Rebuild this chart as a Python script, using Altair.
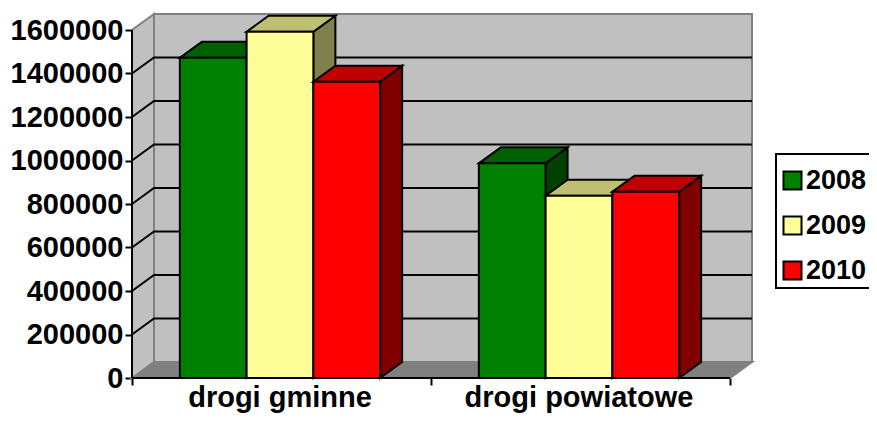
import altair as alt
import pandas as pd

categories = ["drogi gminne", "drogi powiatowe"]
years = ["2008", "2009", "2010"]
values_2008 = [1472000, 987000]
values_2009 = [1592000, 838000]
values_2010 = [1362000, 856000]
tick_values = [0, 200000, 400000, 600000, 800000, 1000000, 1200000, 1400000, 1600000]
front_colors = ["#008000", "#FFFF99", "#FF0000"]
top_colors = ["#006000", "#BFBF73", "#BF0000"]
side_colors = ["#004000", "#80804D", "#800000"]
series_values = [values_2008, values_2009, values_2010]

FONT = "Liberation Sans"
FS = 29
W, H = 620, 364
X_MAX = 620 / 299
Y_TOP = 1600000
Y_MAX = Y_TOP * 364 / 348
DX = 22 / 299
DY = Y_TOP * 16 / 348
N = len(categories)
GAP = 0.16
BAR = 0.2233

xs = alt.Scale(domain=[0, X_MAX], nice=False, zero=False)
ys = alt.Scale(domain=[0, Y_MAX], nice=False, zero=False)

x_axis = alt.Axis(values=[0, 1, 2], labels=False, domain=False, grid=False, tickSize=7,
                  tickWidth=2, tickColor="black", title=None)
y_axis = alt.Axis(values=tick_values, domain=False, grid=False, tickSize=7, tickWidth=2,
                  tickColor="black", labelFont=FONT, labelFontWeight="bold",
                  labelFontSize=FS, labelColor="black", labelPadding=2, labelOverlap=False,
                  labelBound=False, format="d", title=None)


def X(field="x"):
    return alt.X(f"{field}:Q", scale=xs, axis=x_axis)


def Y(field="y"):
    return alt.Y(f"{field}:Q", scale=ys, axis=y_axis)


GRAY = "#808080"
WALL = "#C0C0C0"

# back wall
back = alt.Chart(pd.DataFrame([{"x": DX, "x2": X_MAX, "y": DY, "y2": Y_MAX}])).mark_rect(
    fill=WALL, stroke=GRAY, strokeWidth=2
).encode(x=X(), x2="x2:Q", y=Y(), y2="y2:Q")

# floor
floor = alt.Chart(pd.DataFrame([
    {"y": 0, "x": 0, "x2": N},
    {"y": DY, "x": DX, "x2": N + DX},
])).mark_area(orient="horizontal", fill=GRAY, stroke=GRAY, strokeWidth=2).encode(
    y=Y(), x=X(), x2="x2:Q"
)

# side wall
side_wall = alt.Chart(pd.DataFrame([
    {"x": 0, "y": 0, "y2": Y_TOP},
    {"x": DX, "y": DY, "y2": Y_TOP + DY},
])).mark_area(orient="vertical", fill=WALL, stroke=GRAY, strokeWidth=2).encode(
    x=X(), y=Y(), y2="y2:Q"
)

# grid lines on side + back wall
grid_rows = []
for v in tick_values[1:-1]:
    grid_rows += [
        {"id": v, "o": 0, "x": 0, "y": v},
        {"id": v, "o": 1, "x": DX, "y": v + DY},
        {"id": v, "o": 2, "x": X_MAX, "y": v + DY},
    ]
grid = alt.Chart(pd.DataFrame(grid_rows)).mark_line(color="black", strokeWidth=2).encode(
    x=X(), y=Y(), detail="id:N", order="o:Q"
)

layers = [back, floor, side_wall, grid]

for s, year in enumerate(years):
    sides, tops, fronts = [], [], []
    for c in range(N):
        v = series_values[s][c]
        x0 = c + GAP + s * BAR
        x1 = x0 + BAR
        sides += [
            {"id": c, "x": x1, "y": 0, "y2": v},
            {"id": c, "x": x1 + DX, "y": DY, "y2": v + DY},
        ]
        tops += [
            {"id": c, "y": v, "x": x0, "x2": x1},
            {"id": c, "y": v + DY, "x": x0 + DX, "x2": x1 + DX},
        ]
        fronts.append({"year": year, "x": x0, "x2": x1, "y": 0, "y2": v})
    layers.append(alt.Chart(pd.DataFrame(sides)).mark_area(
        orient="vertical", fill=side_colors[s], stroke="black", strokeWidth=2
    ).encode(x=X(), y=Y(), y2="y2:Q", detail="id:N"))
    layers.append(alt.Chart(pd.DataFrame(tops)).mark_area(
        orient="horizontal", fill=top_colors[s], stroke="black", strokeWidth=2
    ).encode(y=Y(), x=X(), x2="x2:Q", detail="id:N"))
    layers.append(alt.Chart(pd.DataFrame(fronts)).mark_rect(stroke="black", strokeWidth=2).encode(
        x=X(), x2="x2:Q", y=Y(), y2="y2:Q",
        fill=alt.Fill("year:N", scale=alt.Scale(domain=years, range=front_colors),
                      legend=alt.Legend(title=None, orient="none", legendX=642, legendY=148,
                                        symbolType="square", symbolSize=324,
                                        symbolStrokeColor="black", symbolStrokeWidth=2,
                                        labelFont=FONT, labelFontWeight="bold", labelFontSize=27,
                                        labelColor="black", labelOffset=0, rowPadding=17,
                                        padding=5)),
    ))

# front axis lines
axis_x = alt.Chart(pd.DataFrame([{"x": 0, "x2": N, "y": 0}])).mark_rule(
    color="black", strokeWidth=2).encode(x=X(), x2="x2:Q", y=Y())
axis_y = alt.Chart(pd.DataFrame([{"x": 0, "y": 0, "y2": Y_TOP}])).mark_rule(
    color="black", strokeWidth=2).encode(x=X(), y=Y(), y2="y2:Q")
layers += [axis_x, axis_y]

# legend frame (runs past the right edge of the picture)
frame = alt.Chart(pd.DataFrame([{"k": 1}])).mark_rect(
    fillOpacity=0, stroke="black", strokeWidth=2
).encode(x=alt.value(644), x2=alt.value(790), y=alt.value(140), y2=alt.value(274))
layers.append(frame)

# category labels
labels = alt.Chart(pd.DataFrame([
    {"x": c + GAP + 1.5 * BAR, "label": name} for c, name in enumerate(categories)
])).mark_text(font=FONT, fontWeight="bold", fontSize=FS, color="black", align="center",
              baseline="alphabetic").encode(
    x=X(), y=alt.value(H + 29), text="label:N"
)
layers.append(labels)

chart = alt.layer(*layers).properties(
    width=W, height=H,
    autosize=alt.AutoSizeParams(type="none"),
    padding={"left": 124, "top": 6, "right": 117, "bottom": 35},
).configure_view(stroke=None)

chart.save("out.html", embed_options={"renderer": "svg", "actions": False})
